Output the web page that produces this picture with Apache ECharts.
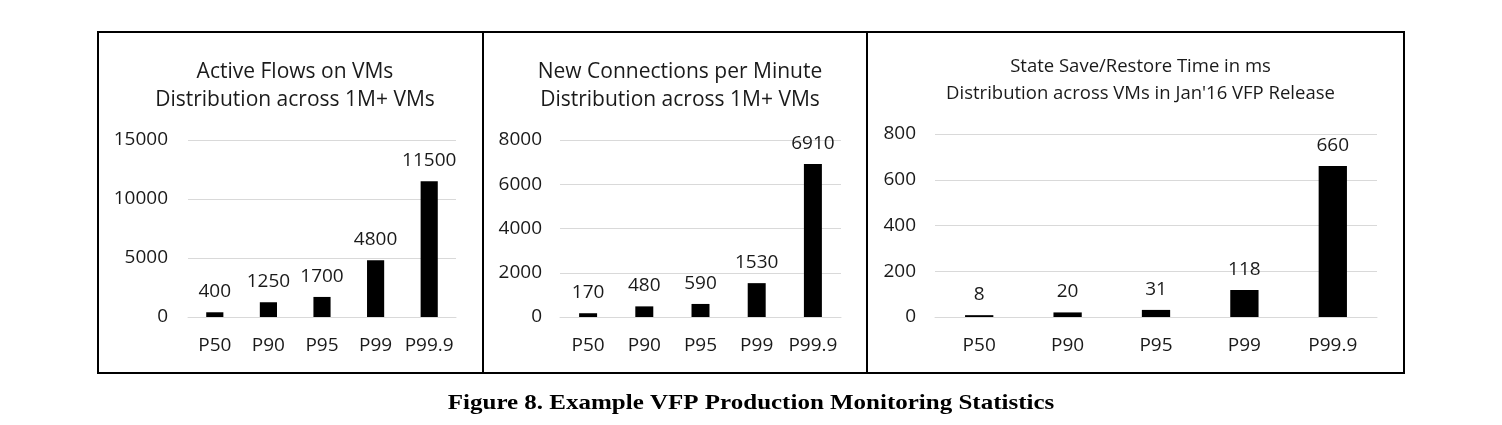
<!DOCTYPE html>
<html>
<head>
<meta charset="utf-8">
<script src="https://cdn.jsdelivr.net/npm/echarts@6/dist/echarts.min.js"></script>
<style>
html,body{margin:0;padding:0;background:#fff;}
#c{width:1502px;height:425px;}
</style>
</head>
<body>
<div id="c"></div>
<script>
const categories = ['P50', 'P90', 'P95', 'P99', 'P99.9'];
const activeFlows = [400, 1250, 1700, 4800, 11500];
const newConnections = [170, 480, 590, 1530, 6910];
const saveRestoreMs = [8, 20, 31, 118, 660];
const titles = [
  'Active Flows on VMs\nDistribution across 1M+ VMs',
  'New Connections per Minute\nDistribution across 1M+ VMs',
  'State Save/Restore Time in ms\nDistribution across VMs in Jan\'16 VFP Release'
];
const caption = 'Figure 8. Example VFP Production Monitoring Statistics';

const FONT = '"Open Sans", "Liberation Sans", sans-serif';
const TXT = '#1a1a1a';
const GRID = '#d9d9d9';

const grids = [
  {left: 188, right: 1502 - 456, top: 140, bottom: 425 - 317},
  {left: 560, right: 1502 - 841, top: 140, bottom: 425 - 317},
  {left: 935, right: 1502 - 1377, top: 134, bottom: 425 - 317}
];
const yMax = [15000, 8000, 800];
const yInt = [5000, 2000, 200];
const labelMargins = [20, 18, 19];
const dataSets = [activeFlows, newConnections, saveRestoreMs];

const option = {
  animation: false,
  backgroundColor: '#fff',
  title: [
    {text: titles[0], left: 290, top: 53, textAlign: 'center',
     textStyle: {fontFamily: FONT, fontSize: 21, fontWeight: 'normal', color: TXT, lineHeight: 28}},
    {text: titles[1], left: 675, top: 53, textAlign: 'center',
     textStyle: {fontFamily: FONT, fontSize: 21, fontWeight: 'normal', color: TXT, lineHeight: 28}},
    {text: titles[2], left: 1135.5, top: 48, textAlign: 'center',
     textStyle: {fontFamily: FONT, fontSize: 18.5, fontWeight: 'normal', color: TXT, lineHeight: 27}}
  ],
  grid: grids,
  xAxis: grids.map((g, i) => ({
    type: 'category', gridIndex: i, data: categories,
    axisLine: {show: true, lineStyle: {color: GRID, width: 1}},
    axisTick: {show: false},
    axisLabel: {fontFamily: FONT, fontSize: 19, color: TXT, margin: 19, interval: 0}
  })),
  yAxis: grids.map((g, i) => ({
    type: 'value', gridIndex: i, min: 0, max: yMax[i], interval: yInt[i],
    axisLine: {show: false}, axisTick: {show: false},
    splitLine: {show: true, lineStyle: {color: GRID, width: 1}},
    axisLabel: {fontFamily: FONT, fontSize: 19, color: TXT, margin: labelMargins[i],
                formatter: v => String(v)}
  })),
  series: dataSets.map((d, i) => ({
    type: 'bar', xAxisIndex: i, yAxisIndex: i, data: d,
    barWidth: '32%',
    itemStyle: {color: '#000'},
    label: {show: true, position: 'top', distance: 11, fontFamily: FONT, fontSize: 19, color: TXT}
  })),
  graphic: [
    {type: 'rect', shape: {x: 98, y: 32, width: 385, height: 341}, style: {fill: 'none', stroke: '#000', lineWidth: 2}, z: 100},
    {type: 'rect', shape: {x: 483, y: 32, width: 384, height: 341}, style: {fill: 'none', stroke: '#000', lineWidth: 2}, z: 100},
    {type: 'rect', shape: {x: 867, y: 32, width: 537, height: 341}, style: {fill: 'none', stroke: '#000', lineWidth: 2}, z: 100},
    {type: 'text', x: 751, y: 404, scaleX: 1.19, originX: 0, originY: 0,
     style: {text: caption, x: 0, y: 0, textAlign: 'center', textVerticalAlign: 'middle',
             font: 'bold 21px "Liberation Serif", "Times New Roman", serif', fill: '#000'}}
  ]
};

const chart = echarts.init(document.getElementById('c'), null, {renderer: 'canvas'});
chart.setOption(option);
</script>
</body>
</html>
